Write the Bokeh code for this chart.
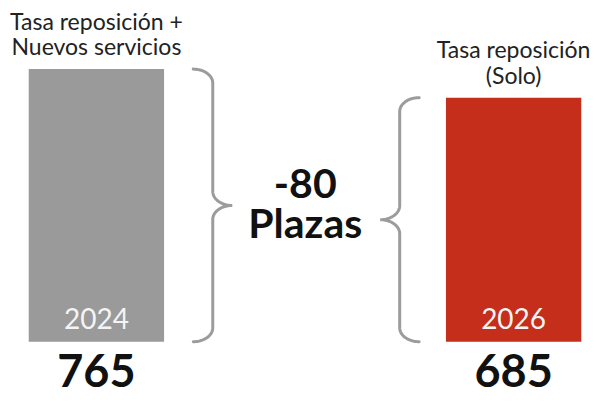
import numpy as np
from bokeh.plotting import figure
from bokeh.models import Range1d
from bokeh.core.properties import value
from bokeh.embed import file_html
from bokeh.resources import INLINE

# ---- data ----
years = ["2024", "2026"]
plazas = [765, 685]
label_line1 = ["Tasa reposición +", "Tasa reposición"]
label_line2 = ["Nuevos servicios", "(Solo)"]
diff_unit = "Plazas"

# ---- layout ----
W, H = 591, 400
SX, SY = W / 607.0, 0.94               # layout compression to fit the page
BASE_PX = 363 * SY                     # bar baseline, px from top
TOP_PX = 73 * SY                       # top of tallest bar, px from top
PX_PER_UNIT = (BASE_PX - TOP_PX) / max(plazas)
K = 0.35                               # svg baseline correction (fraction of font size)

def d(px):                             # pixels -> data units
    return px / PX_PER_UNIT

def at(px_from_top, fs):               # data y for a text baseline at px_from_top
    return d(BASE_PX - (px_from_top - K * fs))

bar_x = [98.5 * SX, 527 * SX]
bar_w = 139 * SX
bar_colors = ["#9a9a9a", "#c42e1a"]
FONT = value("Lato")

p = figure(width=W, height=H, output_backend="svg", toolbar_location=None,
           x_range=Range1d(0, W), y_range=Range1d(d(BASE_PX - H), d(BASE_PX)),
           min_border=0)
p.axis.visible = False
p.grid.visible = False
p.outline_line_color = None
p.background_fill_color = "white"
p.border_fill_color = "white"

# bars
p.vbar(x=bar_x, top=plazas, bottom=0, width=bar_w, color=bar_colors, line_color=None)

# year labels inside bars
fs_year = 28
p.text(x=bar_x, y=[at(BASE_PX - 13.5, fs_year)] * 2, text=years, text_align="center",
       text_baseline="alphabetic", text_font=FONT, text_font_size=f"{fs_year}px",
       text_color="#f4f4f4")

# values below bars
fs_val = 45
p.text(x=bar_x, y=[at(386, fs_val)] * 2, text=[str(v) for v in plazas], text_align="center",
       text_baseline="alphabetic", text_font=FONT, text_font_style="bold",
       text_font_size=f"{fs_val}px", text_color="#111111")

# top labels
fs_lab = 23
tops = np.array(plazas, dtype=float)
top_px = BASE_PX - tops * PX_PER_UNIT
p.text(x=bar_x, y=[at(t - 14.7, fs_lab) for t in top_px], text=label_line2,
       text_align="center", text_baseline="alphabetic", text_font=FONT,
       text_font_size=f"{fs_lab}px", text_color="#222222")
p.text(x=bar_x, y=[at(t - 40.4, fs_lab) for t in top_px], text=label_line1,
       text_align="center", text_baseline="alphabetic", text_font=FONT,
       text_font_size=f"{fs_lab}px", text_color="#222222")

# braces
def brace(y_bot, y_top, xv, direction, w=19.5, r_px=14, n=24):
    r = d(r_px)
    ym = (y_bot + y_top) / 2.0
    xs, ys = [], []
    def arc(cx, cy, a0, a1):
        t = np.radians(np.linspace(a0, a1, n))
        xs.extend(cx + direction * w * np.cos(t))
        ys.extend(cy + r * np.sin(t))
    arc(xv - direction * w, y_top - r, 90, 0)
    arc(xv + direction * w, ym + r, 180, 270)
    arc(xv + direction * w, ym - r, 90, 180)
    arc(xv - direction * w, y_bot + r, 0, -90)
    return xs, ys

bx1, by1 = brace(0, plazas[0], 218 * SX, +1)
bx2, by2 = brace(0, plazas[1], 410 * SX, -1)
p.line(bx1, by1, line_color="#9c9c9c", line_width=3, line_cap="round")
p.line(bx2, by2, line_color="#9c9c9c", line_width=3, line_cap="round")

# difference label
fs_diff = 41
diff = plazas[1] - plazas[0]
cx = 313 * SX
p.text(x=[cx, cx], y=[at(210 * SY, fs_diff), at(251 * SY, fs_diff)],
       text=[f"{diff}", diff_unit],
       text_align="center", text_baseline="alphabetic", text_font=FONT,
       text_font_style="bold", text_font_size=f"{fs_diff}px", text_color="#111111")

open("out.html", "w").write(file_html(p, INLINE))
